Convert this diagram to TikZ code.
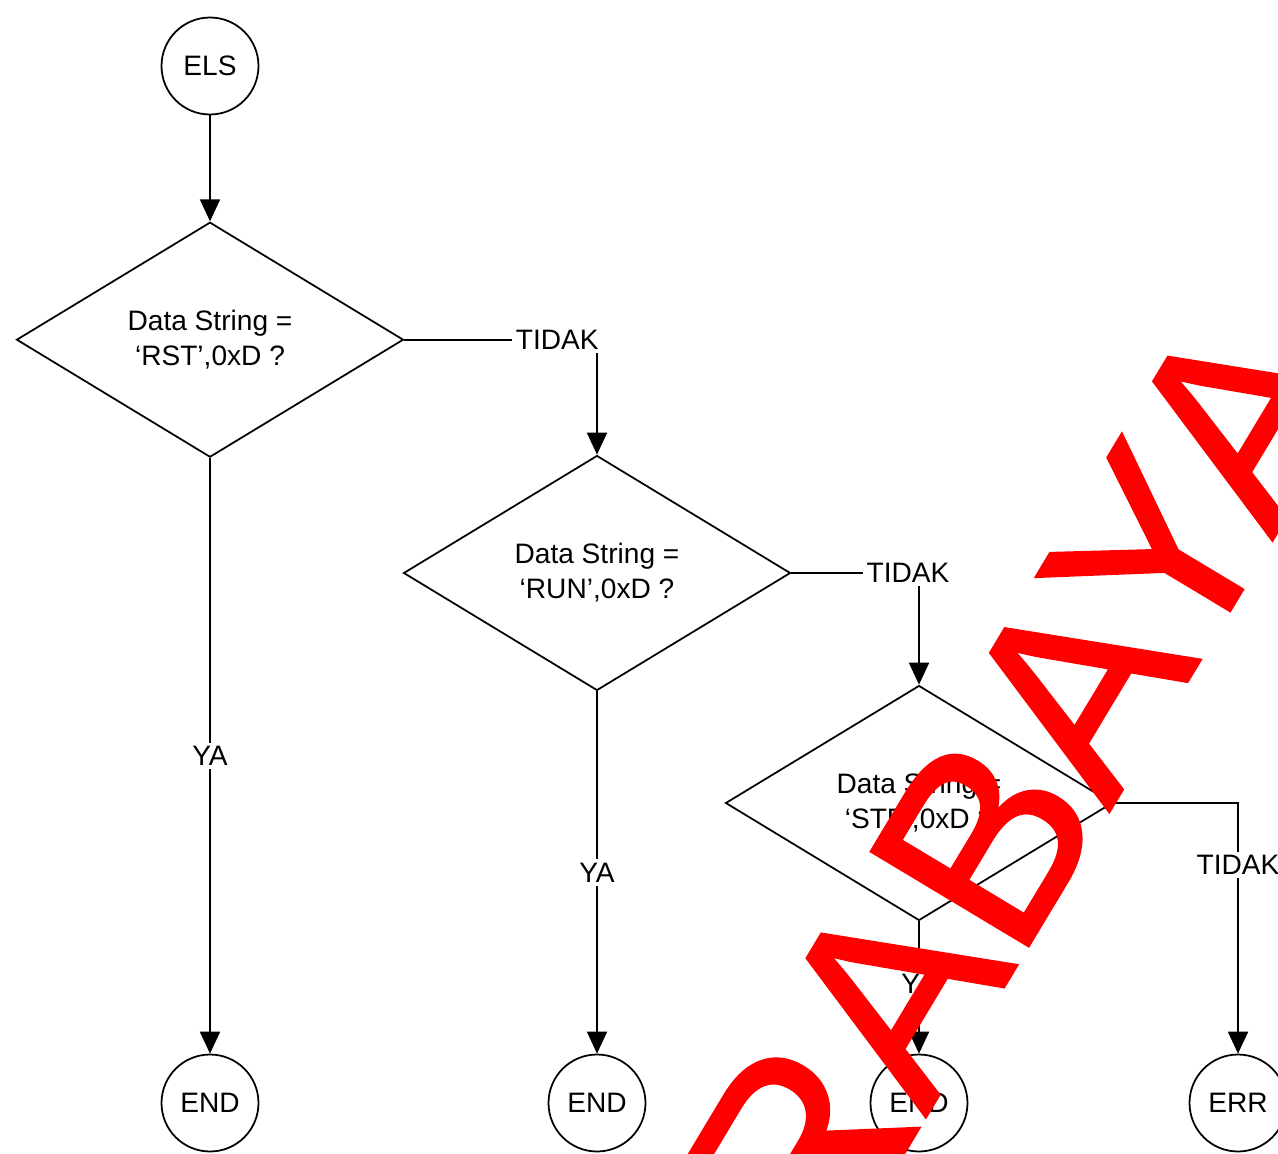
\documentclass[tikz,border=0pt]{standalone}
\usepackage{fontspec}
\setmainfont{Liberation Sans}
\newfontfamily\markfont{Liberation Sans}[FakeBold=1]
\usepackage{tikz}
\usetikzlibrary{arrows.meta,shapes.geometric,positioning,calc}
\tikzset{
    terminal/.style={draw, circle, line width=1pt, minimum size=1.94cm, inner sep=0pt, font=\fontsize{16}{19}\selectfont},
    decision/.style={draw, diamond, line width=1pt, aspect=1.65, minimum width=7.74cm, minimum height=4.7cm, inner sep=0pt, align=center, font=\fontsize{16}{20}\selectfont},
    flow/.style={-{Triangle[length=0.44cm, width=0.4cm]}, line width=1.1pt},
    answer/.style={fill=white, inner sep=2pt, font=\fontsize{16}{19}\selectfont},
    watermark/.style={red, inner sep=0pt, font=\markfont\fontsize{152}{152}\selectfont}
}

\begin{document}
\begin{tikzpicture}[x=0.02cm, y=-0.02cm, node distance=2.12cm]
    \useasboundingbox (0,0) rectangle (1278,1153);
    \clip (0,0) rectangle (1278,1153);

    \node[terminal] (els) at (210,66) {ELS};
    \node[decision, below=of els] (rst) {Data String =\\`RST',0xD ?};
    \node[decision] (run) at (597,573) {Data String =\\`RUN',0xD ?};
    \node[decision] (stp) at (919,803) {Data String =\\`STP',0xD ?};

    \node[terminal] (endrst) at (210,1103) {END};
    \node[terminal] (endrun) at (597,1103) {END};
    \node[terminal] (endstp) at (919,1103) {END};
    \node[terminal] (err) at (1238,1103) {ERR};

    \draw[flow] (els) -- (rst);
    % TIDAK branches
    \draw[flow] (rst.east) -| node[answer, pos=0.397] {TIDAK} (run.north);
    \draw[flow] (run.east) -| node[answer, pos=0.457] {TIDAK} (stp.north);
    \draw[flow] (stp.east) -| node[answer, pos=0.624] {TIDAK} (err.north);
    % YA branches
    \draw[flow] (rst.south) -- node[answer] {YA} (endrst);
    \draw[flow] (run.south) -- node[answer] {YA} (endrun);
    \draw[flow] (stp.south) -- node[answer, pos=0.47] {YA} (endstp);

    % watermark over the chart
    \node[watermark, rotate=59, anchor=base west] (mark) at (635,1601) {SURABAYA};
\end{tikzpicture}
\end{document}
